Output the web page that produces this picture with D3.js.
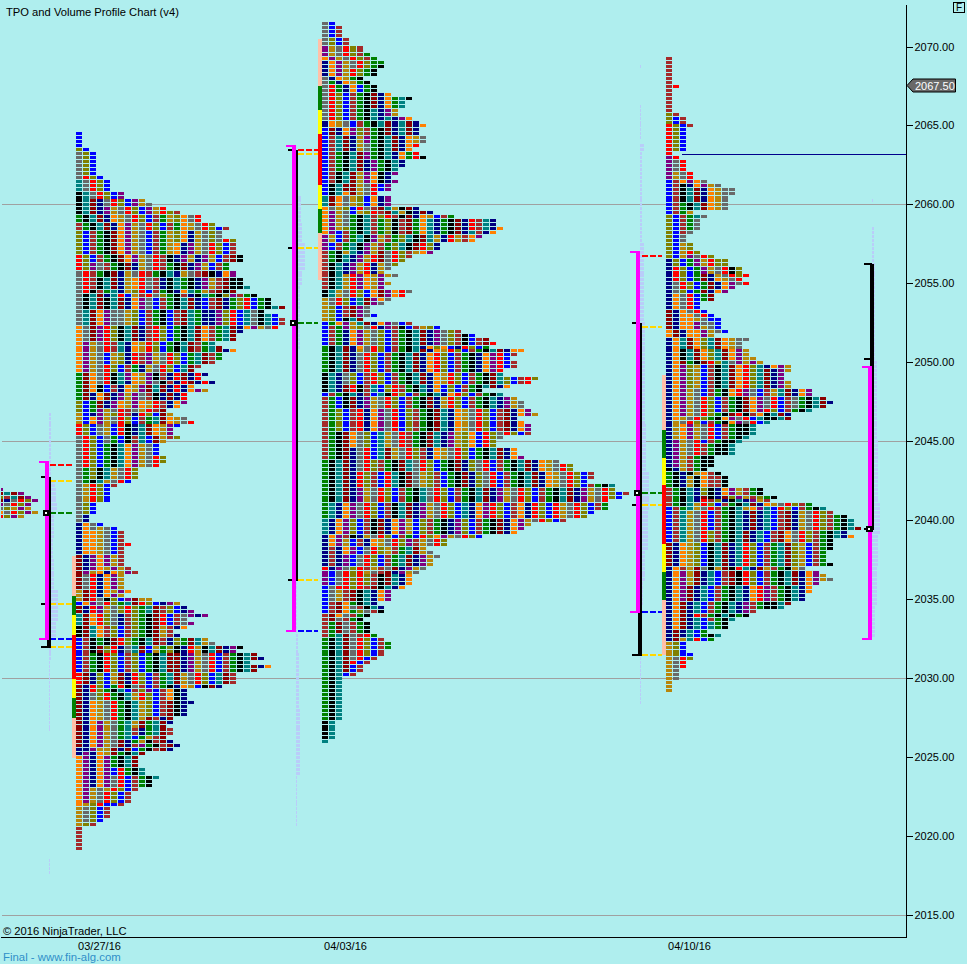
<!DOCTYPE html>
<html>
<head>
<meta charset="utf-8">
<script src="https://cdn.jsdelivr.net/npm/d3@7"></script>
<style>
  html, body { margin: 0; padding: 0; background: #afeeee; }
  svg { display: block; }
  text { font-family: "Liberation Sans", Arial, sans-serif; font-size: 11.2px; }
  .cell { shape-rendering: crispEdges; }
</style>
</head>
<body>
<div id="chart"></div>
<script>
// DATA
const priceTicks = [2070, 2065, 2060, 2055, 2050, 2045, 2040, 2035, 2030, 2025, 2020, 2015];
const priceLines = [2060, 2045, 2030, 2015];
const dateLabels = ["03/27/16", "04/03/16", "04/10/16"];
const lastPrice = 2067.5;
const nakedLevel = 2063.25;

// TPO period colours, one letter per period, in session order
const periodLetters = "nopdgrlbwektm";

// Top price of each profile and how many TPOs each 0.25 row has
const stubTop = 2042;
const stubWidths = [1, 4, 5, 6, 5, 5, 6, 4];
const stubColors = [[0, "p"], [1, "mtmp"], [2, "lwtmp"], [3, "mngrlp"], [4, "pgrlp"], [5, "gldpd"], [6, "ogrlpd"], [7, "rlpd"]];

const day1Top = 2064.5;
const day1Widths = [1,1,1,1,2,3,3,3,3,3,3,4,5,5,5,7,7,10,11,13,15,18,18,20,22,21,21,23,23,23,23,24,24,22,22,23,23,24,24,25,23,26,28,28,30,27,29,30,30,29,24,23,23,20,21,23,21,21,20,18,17,19,18,20,17,19,16,16,
  16,15,13,14,16,17,15,14,14,15,13,12,12,12,13,13,12,9,9,9,8,6,5,5,5,5,3,3,3,2,2,4,6,7,7,7,8,7,7,7,7,7,8,9,7,7,7,7,8,7,11,15,16,17,19,16,17,16,14,15,19,20,24,23,26,27,25,28,26,23,23,23,21,16,16,16,
  17,16,16,16,14,14,13,14,14,13,14,15,14,10,9,9,9,10,10,12,11,11,9,8,8,8,7,5,5,5,4,3,1,1,1,1,1,1];
const day1Colors = [
  [0,"b"],[4,"lb"],[5,"glb"],[11,"grlb"],[12,"tgrlb"],[15,"ktgrlbp"],[17,"ktmngrlbpd"],[19,"ktmnpdgrlbpdrlw"],
  [21,"ektmnodgrlbwedlogrl"],[23,"wektmnopdgrlbweodgrlb"],[25,"lbwekmopdgbwedlondglg"],[28,"lbwekmopdgbwedonpdgrlbw"],
  [31,"rlbwekmopdgrwknpdnpdbwmk"],[33,"rlpgwekmndgrwekmnpdbw"],[35,"grwekmndgrwektndgwmkn"],[37,"grwktmndorgwnkteknpdwmkk"],
  [40,"grkwetndlrbweknotedwmkm"],[41,"gktmntrbdwrglekwnkteklpwek"],[42,"gktmktmnopgbwektmnbwmnelrbekt"],[45,"gtmopggdlbwekbwmtennplrbtgktb"],
  [49,"ogmprlktmnwrlbektmowet"],[53,"opdgrwtnodrlbektmwet"],[56,"opdgbdlnrwpdgrlbetmwemt"],[59,"opdgrlbwendgrlbtmwm"],
  [61,"emogrktpodpkwnrmnrn"],[63,"emogrktnodpgkwnrmnrn"],[64,"emokbwnodpmtmnrno"],[66,"emnomnpdpgwknmnro"],
  [68,"lbemnpodpodrwno"],[70,"lbepdgrwgdrwmn"],[71,"dbnpdlrwnrlbmd"],[72,"dbopdgrlbwetmod"],[74,"rlbgdbrkntmodpb"],
  [77,"grlbgebkwtbmdwlb"],[79,"grlbektopdgb"],[82,"grlbektopdgrlb"],[84,"grlbektopdgrl"],[85,"gelktdgrlb"],[88,"gektdgrb"],
  [89,"gdrlb"],[94,"glb"],[97,"gn"],[99,"nogb"],[100,"nogdgb"],[101,"noodgbw"],[104,"noodgbwr"],[105,"noodgbw"],
  [107,"mnpopdw"],[110,"mnpodpdw"],[111,"mpdonodpw"],[112,"mgrnopd"],[116,"dmrnodpo"],[117,"dmrnopd"],[118,"dmrgklbpmdd"],
  [119,"bopgrletmrlbnpd"],[120,"mnrpdglrletmwlbnp"],[122,"tmorlgnwlekmrbwgpnp"],[125,"kmtowlbwlekmdwn"],[128,"bwkekmrlektmwnlemtdge"],
  [130,"bwkmlrngtmbdelknrdktmnpk"],[132,"bwekrlbwlbektmmnpdgrbwektmn"],[137,"rmnlbdmnrlbwetmdgrlbtmwn"],[140,"mnrlberkgwbweknodbkmn"],
  [141,"mnrlektbwlpbwokn"],[142,"mnglrektdrlbwokn"],[144,"mnodgrektdlbwmknn"],[145,"mnodgrektdlbwmkn"],[148,"mnodgrektdmwnm"],
  [149,"mnopdgetdmetmn"],[151,"mnopdgetwnetmw"],[153,"mnopdgetbedwm"],[154,"mnopdgmnedkwmn"],[155,"mnopdgmnwpekwmn"],[156,"nnpddmnmbekwmn"],
  [157,"npnodmektm"],[158,"opnopektm"],[161,"opnopbrektt"],[163,"opnopgrbwekt"],[164,"opnopgrbwek"],[166,"opdgdrlbw"],[167,"opdgrlbw"],
  [170,"odlrbbw"],[171,"dglbw"],[174,"dglb"],[175,"dlw"],[176,"w"]
];

const day2Top = 2071.5;
const day2Widths = [2,3,3,3,4,4,6,6,7,8,9,9,8,8,6,7,8,8,10,13,12,12,11,11,13,14,15,14,14,15,15,14,13,14,15,12,12,11,11,10,11,10,10,8,10,10,10,14,16,19,25,25,26,25,23,22,17,17,
  16,13,12,11,10,9,11,9,10,9,13,12,10,9,7,7,8,6,13,17,20,22,24,25,24,29,28,27,28,28,26,26,31,30,27,23,26,28,29,29,30,31,28,29,30,30,30,26,25,25,28,28,29,34,36,36,39,39,38,42,42,44,43,41,41,41,39,38,35,30,29,28,23,18,18,15,16,17,16,16,15,14,13,13,13,12,10,10,10,8,9,9,7,6,7,7,7,8,9,10,10,9,9,8,7,6,6,5,
  3,3,3,3,3,3,3,3,3,3,3,2,2,2,2,2,1];
const day2Colors = [
  [0,"gb"],[1,"gbw"],[4,"glbw"],[6,"pdgrlw"],[8,"pdgrlwe"],[9,"opdgrlwe"],[10,"nopdgrlee"],[11,"nopdgrlek"],[12,"nopdrlek"],[14,"gnodek"],[15,"genodek"],[16,"grenobek"],
  [18,"grlbwekmno"],[19,"grlbwekmnoetk"],[22,"grlbwektnpd"],[24,"grlbwektntnpo"],[25,"nodgbwektmntmno"],[27,"bmnoplwekmntmn"],[29,"bwtmndpektmnodg"],[31,"bwtmndgektmnor"],
  [33,"bwektmpektnoerk"],[35,"bwektmnpektn"],[38,"bwktmdpoknp"],[41,"bktmmdgrbp"],[43,"bktomdgr"],[44,"tmogdlbonp"],[47,"ogdlbrgwmtdkmn"],[48,"opdgbdlrwmtdknmn"],
  [49,"opdgektwlrwkmnodbwe"],[50,"opdgektwelkwmeotnekmnrwtnd"],[52,"opdlektwelkwmeotnekmnrwtnod"],[53,"opbwektwelkwmeotnekmntwnod"],[54,"pdbwetkpdweltkmtdnrdwo"],
  [56,"pbwetkpdweltkmrln"],[58,"wekdtnpdmgrlwdop"],[59,"wektnpdrmgrlw"],[61,"wktnpdrndgl"],[63,"wktnpdrnd"],[64,"wktdrpodpdg"],[68,"ktdgrlbomporg"],[70,"dgrlbtmpog"],[71,"dgrlbtmpg"],
  [72,"dlbwmpg"],[74,"dlbwmpgb"],[75,"dlbktm"],[76,"beopdtmnopgbw"],[77,"bwepdlgrnpwkbwdl"],[78,"bwenopdglbwektmnpglwkbwmr"],
  [82,"ektmnogrlbwektnolobnrlbekmn"],[83,"ektmndgrlbwektmnodrlbwektmnoob"],[84,"ektmngrlbwektmnorlbweknoprb"],[89,"ktnglbwrlbwektmnodrlbwekmtlbwr"],[92,"ktnmrkwtblrwektnoblbwek"],
  [94,"bwektnwbtkrlbwektnorlbwektod"],[95,"webkmnpdgrlbwekmndrlbwektnpdgr"],[98,"welbwrnopgrblwekmtnodgrlbwmno"],[104,"wekmoglbtdgrwekmtnpdlobrlg"],
  [108,"wekmngrbtmdgrlwnodgrlbektm"],[111,"ektmngrlwekmtgrlbekmnlgrbwektmnodgr"],[114,"ektmnrlwbrtkmgdlwbekmnlgrbwektmnodgrlbwek"],
  [118,"ektmnpdgrlbwektgrlbwektmnpdgrlbwektmnpdgrlbw"],[122,"etnopgrlbwktmnpdgrlbtnoprlbwonrlbrdgrlb"],[126,"tnoplbwkmnopdblweknplbwekmnopdgrlbw"],
  [130,"nopwkndgrlbwebrlopdgrl"],[131,"nopdbwnodgrlpwdgrl"],[133,"nwnopbgrldwetmd"],[135,"nwnpbgrlbwetmnpd"],[138,"rnpglrwdwgmnpd"],[139,"pbgrlrdgwmnpd"],[140,"pbgrlrlwkmtn"],
  [143,"bgrrlrwmktno"],[144,"bgdwmktnop"],[147,"bwmoektn"],[148,"bwmogwktn"],[149,"bwmoelgwk"],[150,"wmogwek"],[151,"wmgwek"],[152,"wemgwek"],[155,"wetmgwre"],
  [156,"ektmgrlbw"],[157,"ektmgrlbwe"],[159,"ektmgrlbw"],[161,"ektmgrbw"],[162,"ektmrbw"],[163,"ektmbw"],[165,"ektbw"],[166,"ekt"],[177,"kt"],[182,"t"]
];

const day3Top = 2069.25;
const day3Widths = [1,1,1,1,1,1,1,2,1,1,1,1,1,1,2,3,3,4,3,3,3,3,3,3,1,2,3,3,3,4,4,6,8,10,10,9,9,9,9,4,6,5,5,5,4,3,3,4,4,5,7,9,9,11,11,12,11,12,10,9,7,7,5,5,6,7,8,8,8,9,7,12,11,11,12,12,13,14,18,18,17,17,18,18,21,21,23,24,23,21,18,18,15,13,13,13,12,11,10,10,10,7,7,7,6,8,9,9,9,14,14,16,15,21,23,24,26,27,27,28,26,27,24,24,24,23,23,23,24,20,22,23,24,22,21,21,20,20,18,17,13,12,10,9,9,6,8,7,3,3,3,4,4,3,3,2,2,2,1,1,1];
const day3Colors = [
  [0,"w"],[7,"wr"],[8,"w"],[14,"lw"],[15,"lbw"],[17,"rlbw"],[18,"rlb"],[24,"r"],[25,"pr"],[26,"pgr"],[29,"pdgr"],[31,"bwopog"],[32,"bwknopdg"],[33,"bwktmnodgg"],[35,"bwktmnodg"],[37,"bwektmodg"],
  [39,"bwed"],[40,"lbwetg"],[41,"lbweg"],[44,"lbwg"],[45,"lbg"],[47,"lbdl"],[49,"lbdrl"],[50,"lbdpgrl"],[51,"nlbepdrll"],[53,"nrlbepdgrkl"],[55,"nrlbemndgrlr"],[56,"nrlbemnodgr"],[57,"ngrlbemnopgr"],
  [58,"ngrlbemnop"],[59,"nglbemnop"],[60,"nogrbem"],[62,"nogrb"],[64,"mnogrb"],[65,"mnoogrb"],[66,"mnoodgbb"],[67,"mnoopggb"],[68,"mnoopdgb"],[69,"omnoopdgb"],[70,"omnoopd"],[71,"notmoltmodgg"],[74,"noktmoltmopd"],[76,"noktmoltmopdd"],[77,"nomekmrltgpdpd"],
  [78,"nopldbwktmorltnopd"],[79,"nopldbwktmorltmnpd"],[84,"nopdgbwekorpgbwdtmn"],[86,"nopdgrlbwekmopgrbwgektmn"],[89,"nopdgrlbwekmoprlbwekt"],[90,"nopdgrlekmrkwokt"],[91,"nodgrlekopgrbtkkt"],[92,"ndgrlbwekopgrbt"],[93,"ndopdgrbwekkt"],[96,"ndopdgrbwekt"],[97,"npdgrbwekkt"],[98,"npdgrwekkt"],
  [101,"npdwekk"],[104,"kndwek"],[105,"eknkdowk"],[106,"ekndkowwk"],[109,"wektnlknopdwek"],[111,"wektnmknmlpdwlek"],[112,"wektnrwlnktnpdwe"],[113,"wektdrlbwektmnodgrlwek"],[114,"bwetdgrwektdoptbrlbwek"],
  [115,"bwtdgrbwektnmntbwmndgrlwek"],[120,"bwtdgrlwektmntbwmogrlwektn"],[123,"mnodlbktmntrlbwetmldbwek"],[129,"nowdmgkdmkrtnmdwekd"],[130,"nopdmntbwmkrlbwekt"],[134,"nopmntbwektnorpwektn"],
  [138,"nomntbwektnpwekk"],[141,"nomnrwektke"],[142,"nomntbwekt"],[143,"nomntbte"],[145,"nmntbe"],[146,"nmntbekt"],[147,"nmdtrbe"],[148,"dlb"],[151,"dlbb"],[152,"dgrl"],[153,"dgr"],[155,"dg"],[158,"d"]
];

// Opening range bands beside each profile: [letter, top price, bottom price]
const day1Bands = [["a",2037.75,2035.25],["e",2035.25,2034],["y",2034,2032.75],["r",2032.75,2030],["y",2030,2028.75],["e",2028.75,2027.5],["a",2027.5,2025]];
const day2Bands = [["a",2070.5,2067.5],["e",2067.5,2066],["y",2066,2064.5],["r",2064.5,2061.25],["y",2061.25,2059.75],["e",2059.75,2058.25],["a",2058.25,2055.25]];
const day3Bands = [["a",2049.25,2045.75],["e",2045.75,2044],["y",2044,2042.25],["r",2042.25,2038.5],["y",2038.5,2036.75],["e",2036.75,2035],["a",2035,2031.5]];

// Session brackets: value area and total range, [top, bottom]
const magentaRanges = [[2043.75,2032.5],[2063.75,2033],[2057,2034.25],[2049.75,2032.5]];
const blackRanges = [[2042.75,2032],[2063.5,2036.25],[2052.5,2031.5],[2056.25,2039.5]];
const blackCaps = [[2042.75,2034.75,2032],[2063.5,2057.25,2036.25],[2052.5,2041,2031.5],[2056.25,2050.25,2039.5]];
const pocPrices = [2040.5,2052.5,2041.75,2039.5];

// Part of the total range outside the value area, drawn heavier
const valueExit = [[2032.5,2032],[2033,2033],[2034.25,2031.5],[2056.25,2049.75]];

// Dashed levels from bracket to profile: [price, letter]
const day1Levels = [[2043.5,"r"],[2042.5,"y"],[2040.5,"e"],[2034.75,"y"],[2032.5,"b"],[2032,"y"]];
const day2Levels = [[2063.5,"r"],[2063.25,"y"],[2057.25,"y"],[2052.5,"e"],[2036.25,"y"],[2033,"b"]];
const day3Levels = [[2056.75,"r"],[2052.25,"y"],[2041.75,"e"],[2041,"y"],[2034.25,"b"],[2031.5,"y"]];

// Volume profile blocks: [top price, bottom price, size]
const day1Volume = [[2046.75,2042.5,2],[2042.5,2042,6],[2042,2041,7],[2041,2040.5,8],[2040.5,2038.75,5],[2038.75,2037.5,4],[2037.5,2035.5,5],[2035.5,2033.5,9],[2033.5,2032.5,7],[2032.5,2031,2],[2031,2026.5,1],[2018.5,2017.5,1]];
const day2Volume = [[2062,2060.5,1],[2060.5,2058.75,5],[2058.75,2057.5,6],[2057.5,2055.75,9],[2055.75,2054.75,6],[2054.75,2050.75,4],[2036,2032.75,1],[2032.75,2031.5,2],[2031.5,2028,3],[2028,2023.75,4],[2023.75,2020.5,1]];
const day3Volume = [[2068.75,2068.5,1],[2066.25,2064,1],[2063.75,2063.25,4],[2063.25,2057.5,2],[2057.5,2052.5,4],[2052.5,2046,5],[2046,2043,6],[2043,2040.5,9],[2040.5,2038,8],[2038,2036,5],[2036,2034.5,3],[2031.5,2028.25,1]];
const day4Volume = [[2060.25,2060,1],[2058.5,2056.25,2],[2056.25,2050,3],[2050,2045,5],[2045,2041,6],[2041,2039,8],[2039,2037,6],[2037,2034.5,5],[2034.5,2032.5,3]];

// STYLE
const colorOf = {
  n: "#000080", o: "#ff8000", p: "#800080", d: "#b8860b", g: "#696969", r: "#ff0000", l: "#808000",
  b: "#0000ff", w: "#a52a2a", e: "#008000", k: "#000000", t: "#008080", m: "#8b0000",
  a: "#ffc0a8", y: "#ffff00"
};
const levelColor = { r: "#ff0000", y: "#ffd700", e: "#008000", b: "#0000ff" };

// CHART
const svgWidth = 967;
const svgHeight = 964;
const plot = { left: 1, right: 906, top: 5, bottom: 937 };
const profileX = { stub: -3, day1: 76, day2: 322, day3: 666 };
const bracketX = [45, 292, 636, 868];

const y = d3.scaleLinear().domain([2070, 2015]).range([47, 915.5]);
const col = d3.scaleLinear().domain([0, 1]).range([0, 7]);
const rowStep = 0.25;
const pixelLine = p => Math.floor(y(p)) + 0.5;

const svg = d3.select("#chart").append("svg")
  .attr("width", svgWidth)
  .attr("height", svgHeight);

svg.append("rect").attr("width", svgWidth).attr("height", svgHeight).attr("fill", "#afeeee");

svg.append("clipPath").attr("id", "plot-clip").append("rect")
  .attr("x", plot.left).attr("y", plot.top)
  .attr("width", plot.right - plot.left).attr("height", plot.bottom - plot.top);

const chartGroup = svg.append("g").attr("clip-path", "url(#plot-clip)");

// price lines
chartGroup.selectAll("line.price-line").data(priceLines).enter().append("line")
  .attr("class", "price-line cell")
  .attr("x1", 2).attr("x2", plot.right)
  .attr("y1", pixelLine).attr("y2", pixelLine)
  .attr("stroke", "#a0a0a0");

// volume profile, drawn row by row
const drawVolume = function(blocks, x0) {
  blocks.forEach(([top, bottom, size]) => {
    const rows = d3.range(top, bottom, -rowStep);
    chartGroup.selectAll(null).data(rows).enter().append("rect")
      .attr("class", "cell")
      .attr("x", x0)
      .attr("y", d => Math.round(y(d) - 1.5))
      .attr("width", size)
      .attr("height", 3)
      .attr("fill", "#b9cdf9");
  });
};
drawVolume(day1Volume, 49);
drawVolume(day2Volume, 296);
drawVolume(day3Volume, 640);
drawVolume(day4Volume, 872);

// Fn colour for one TPO, keeps going round the period order past the end of a block string
const tpoColor = function(letters, i) {
  if (i < letters.length) return colorOf[letters[i]];
  const last = periodLetters.indexOf(letters[letters.length - 1]);
  return colorOf[periodLetters[(last + 1 + i - letters.length) % periodLetters.length]];
};

// Fn draw a profile from its row widths and colour blocks
const drawProfile = function(top, widths, colors, x0) {
  const cells = [];
  widths.forEach((w, row) => {
    const block = colors.filter(c => c[0] <= row).pop();
    d3.range(w).forEach(i => cells.push({ row: row, i: i, fill: tpoColor(block[1], i) }));
  });
  chartGroup.append("g").selectAll("rect").data(cells).enter().append("rect")
    .attr("class", "cell")
    .attr("x", d => x0 + col(d.i))
    .attr("y", d => Math.round(y(top - d.row * rowStep) - 1.5))
    .attr("width", 6)
    .attr("height", 3)
    .attr("fill", d => d.fill);
};
drawProfile(stubTop, stubWidths, stubColors, profileX.stub);
drawProfile(day1Top, day1Widths, day1Colors, profileX.day1);
drawProfile(day2Top, day2Widths, day2Colors, profileX.day2);
drawProfile(day3Top, day3Widths, day3Colors, profileX.day3);

// opening range bands
const drawBands = function(bands, x0) {
  chartGroup.append("g").selectAll("rect").data(bands).enter().append("rect")
    .attr("class", "cell")
    .attr("x", x0 - 4)
    .attr("y", d => y(d[1]))
    .attr("width", 4)
    .attr("height", d => y(d[2]) - y(d[1]))
    .attr("fill", d => colorOf[d[0]]);
};
drawBands(day1Bands, profileX.day1);
drawBands(day2Bands, profileX.day2);
drawBands(day3Bands, profileX.day3);

// dashed levels
const drawLevels = function(levels, x1, x2) {
  chartGroup.append("g").selectAll("line").data(levels).enter().append("line")
    .attr("class", "cell")
    .attr("x1", x1).attr("x2", x2)
    .attr("y1", d => y(d[0])).attr("y2", d => y(d[0]))
    .attr("stroke", d => levelColor[d[1]])
    .attr("stroke-width", 2)
    .attr("stroke-dasharray", "6 2");
};
drawLevels(day1Levels, 50, profileX.day1 - 4);
drawLevels(day2Levels, 298, profileX.day2 - 4);
drawLevels(day3Levels, 642, profileX.day3 - 4);

// brackets
const bracketGroup = chartGroup.append("g").attr("class", "cell");

blackRanges.forEach((r, i) => {
  const x0 = bracketX[i];
  bracketGroup.append("rect")
    .attr("x", x0 + 4).attr("y", y(r[0]))
    .attr("width", 2).attr("height", y(r[1]) - y(r[0]) + 1)
    .attr("fill", "#000");
  blackCaps[i].forEach(p => {
    bracketGroup.append("rect")
      .attr("x", x0 - 4).attr("y", y(p) - 1)
      .attr("width", p === r[1] ? 10 : 8).attr("height", 2)
      .attr("fill", "#000");
  });
});

valueExit.forEach((r, i) => {
  bracketGroup.append("rect")
    .attr("x", bracketX[i] + 2).attr("y", y(r[0]))
    .attr("width", 4).attr("height", y(r[1]) - y(r[0]))
    .attr("fill", "#000");
});

magentaRanges.forEach((r, i) => {
  const x0 = bracketX[i];
  bracketGroup.append("rect")
    .attr("x", x0).attr("y", y(r[0]))
    .attr("width", 4).attr("height", y(r[1]) - y(r[0]))
    .attr("fill", "#ff00ff");
  r.forEach(p => {
    bracketGroup.append("rect")
      .attr("x", x0 - 6).attr("y", y(p) - 1)
      .attr("width", 10).attr("height", 2)
      .attr("fill", "#ff00ff");
  });
});

// point of control markers
pocPrices.forEach((p, i) => {
  const cy = Math.round(y(p));
  bracketGroup.append("rect")
    .attr("x", bracketX[i] - 2).attr("y", cy - 3)
    .attr("width", 7).attr("height", 6)
    .attr("fill", "#000");
  bracketGroup.append("rect")
    .attr("x", bracketX[i]).attr("y", cy - 1)
    .attr("width", 2).attr("height", 2)
    .attr("fill", "#fff");
});

// naked level from the last profile
chartGroup.append("rect")
  .attr("class", "cell")
  .attr("x", 682).attr("width", plot.right - 682)
  .attr("y", Math.ceil(y(nakedLevel))).attr("height", 1)
  .attr("fill", "#00008b");

// AXES
const yAxis = d3.axisRight(y)
  .tickValues(priceTicks)
  .tickFormat(d => d.toFixed(2))
  .tickSize(6)
  .tickPadding(2);

const yAxisGroup = svg.append("g")
  .attr("transform", `translate(${plot.right + 0.5}, 0)`)
  .call(yAxis);
yAxisGroup.select(".domain").remove();
yAxisGroup.selectAll(".tick").attr("transform", d => `translate(0, ${pixelLine(d)})`);
yAxisGroup.selectAll("text").style("font-size", "11px").attr("fill", "#000");
yAxisGroup.selectAll("line").attr("stroke", "#000").attr("class", "cell");

svg.append("line")
  .attr("class", "cell")
  .attr("x1", plot.right + 0.5).attr("x2", plot.right + 0.5)
  .attr("y1", plot.top).attr("y2", plot.bottom + 1)
  .attr("stroke", "#000");

const xDate = d3.scaleOrdinal().domain(dateLabels).range([99, 345, 689]);
const xAxisGroup = svg.append("g")
  .attr("transform", `translate(0, ${plot.bottom + 0.5})`)
  .call(d3.axisBottom(xDate).tickSize(0).tickPadding(5));
xAxisGroup.select(".domain").remove();
xAxisGroup.selectAll("text").style("font-size", "11px").attr("fill", "#000");

svg.append("line")
  .attr("class", "cell")
  .attr("x1", plot.left).attr("x2", plot.right)
  .attr("y1", plot.bottom + 0.5).attr("y2", plot.bottom + 0.5)
  .attr("stroke", "#000");

// last price tag
const tagY = Math.floor(y(lastPrice)) - 0.5;
svg.append("path")
  .attr("d", d3.line()([[907, tagY], [913, tagY - 6.5], [955.5, tagY - 6.5], [955.5, tagY + 6.5], [913, tagY + 6.5]]) + "Z")
  .attr("fill", "#696969")
  .attr("stroke", "#000");
svg.append("text")
  .attr("x", 915).attr("y", tagY + 4)
  .attr("fill", "#fff")
  .style("font-size", "11px")
  .text(lastPrice.toFixed(2));

// F box
svg.append("rect")
  .attr("class", "cell")
  .attr("x", 953.5).attr("y", 2.5)
  .attr("width", 11).attr("height", 10)
  .attr("fill", "none").attr("stroke", "#000");
svg.append("text")
  .attr("x", 959).attr("y", 11)
  .attr("text-anchor", "middle")
  .style("font-size", "10px")
  .text("F");

// captions
svg.append("text").attr("x", 6).attr("y", 16).attr("fill", "#000").text("TPO and Volume Profile Chart (v4)");
svg.append("text").attr("x", 3).attr("y", 935).attr("fill", "#000").text("© 2016 NinjaTrader, LLC");
svg.append("text").attr("x", 3).attr("y", 961).attr("fill", "#2f8fc9").style("font-size", "11.4px").text("Final - www.fin-alg.com");
</script>
</body>
</html>
